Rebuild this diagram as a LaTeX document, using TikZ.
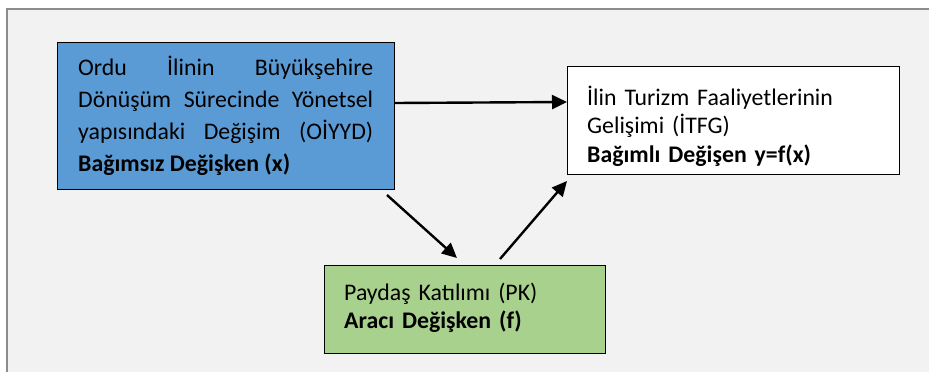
\documentclass[tikz,border=0pt]{standalone}
\usepackage{fontspec}
\setmainfont{Carlito}
\usetikzlibrary{arrows.meta,calc}
\definecolor{panel}{HTML}{F2F2F2}
\definecolor{panelline}{HTML}{8C8C8C}
\definecolor{blueb}{HTML}{5B9BD5}
\definecolor{greenb}{HTML}{A9D18E}
\begin{document}
\begin{tikzpicture}[x=1pt,y=-1pt,
  boxshape/.style={draw=black,line width=1pt,anchor=north west,inner sep=0pt},
  boxtext/.style={anchor=north west,inner sep=0pt,font=\fontsize{23.8}{#1}\selectfont},
  conn/.style={line width=2.4pt,-{Triangle[length=15pt,width=14pt]}}]
\useasboundingbox (0,0) rectangle (929,372);
\fill[white] (0,0) rectangle (929,372);
\fill[panel] (7,9) rectangle (935,380);
\draw[panelline,line width=2.5pt] (7,380) -- (7,9) -- (935,9);
% boxes
\node[boxshape,fill=blueb,minimum width=337pt,minimum height=147pt] (blue) at (57,42) {};
\node[boxshape,fill=white,minimum width=332pt,minimum height=108pt] (white) at (567,66) {};
\node[boxshape,fill=greenb,minimum width=281pt,minimum height=88pt] (green) at (324,265) {};
% texts
\node[boxtext=32,text width=295pt,align=justify] (bluetext) at (78,52.6)
  {\strut Ordu İlinin Büyükşehire\linebreak Dönüşüm Sürecinde Yönetsel\linebreak yapısındaki Değişim (OİYYD)\linebreak \textbf{Bağımsız Değişken (x)}};
\node[boxtext=28.5,text width=292pt,align=left] (whitetext) at (587,85.05)
  {\strut İlin Turizm Faaliyetlerinin\\Gelişimi (İTFG)\\\textbf{Bağımlı Değişen y=f(x)}};
\node[boxtext=28,text width=241pt,align=left] (greentext) at (344,280.4)
  {\strut Paydaş Katılımı (PK)\\\textbf{Aracı Değişken (f)}};
% connectors
\coordinate (a1) at ($(blue.north east)+(0,61)$);
\coordinate (a2) at ($(white.north west)+(0,36)$);
\draw[conn] (a1) -- (a2);
\coordinate (b1) at ($(blue.south east)+(-8,5)$);
\coordinate (b2) at ($(green.north west)+(133,-7)$);
\draw[conn] (b1) -- (b2);
\coordinate (c1) at ($(green.north west)+(176,-6)$);
\coordinate (c2) at ($(white.south west)+(0,6)$);
\draw[conn] (c1) -- (c2);
\end{tikzpicture}
\end{document}
